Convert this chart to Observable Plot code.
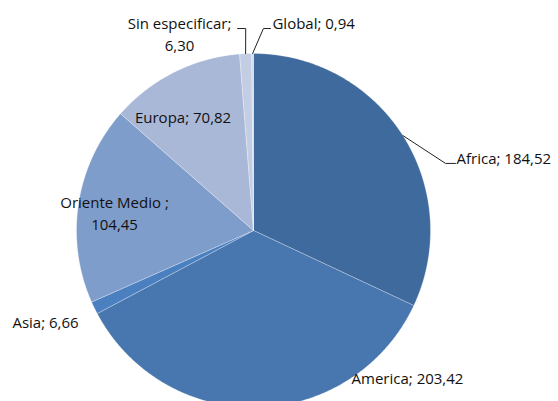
<!DOCTYPE html>
<html>
<head>
<meta charset="utf-8">
<script src="https://cdn.jsdelivr.net/npm/d3@7"></script>
<script src="https://cdn.jsdelivr.net/npm/@observablehq/plot@0.6"></script>
<style>
  html, body { margin: 0; padding: 0; background: #fff; }
</style>
</head>
<body>
<div id="chart"></div>
<script>
// ---- data ----
const regions = ["Africa", "America", "Asia", "Oriente Medio", "Europa", "Sin especificar", "Global"];
const amounts = [184.52, 203.42, 6.66, 104.45, 70.82, 6.30, 0.94];
const valueLabels = ["184,52", "203,42", "6,66", "104,45", "70,82", "6,30", "0,94"];

// ---- style / layout (not data) ----
const colors = ["#3F6A9E", "#4876AF", "#4A7FC0", "#7F9DCB", "#AAB8D8", "#C3CDE3", "#D3DAEA"];
// label anchor positions in radius units relative to pie centre (y up)
const labelLayout = [
  {lines: ["Africa; 184,52"], x: 1.147, y: 0.401, anchor: "start"},
  {lines: ["America; 203,42"], x: 0.554, y: -0.842, anchor: "start"},
  {lines: ["Asia; 6,66"], x: -1.362, y: -0.523, anchor: "start"},
  {lines: ["Oriente Medio ;", "104,45"], x: -0.785, y: 0.153, anchor: "middle"},
  {lines: ["Europa; 70,82"], x: -0.398, y: 0.633, anchor: "middle"},
  {lines: ["Sin especificar;", "6,30"], x: -0.418, y: 1.164, anchor: "middle"},
  {lines: ["Global; 0,94"], x: 0.107, y: 1.164, anchor: "start"}
];
const lineStep = 0.122;
// leader lines in radius units: bent segment from label, then to the slice edge
const leaderLayout = [
  {slice: 0, pts: [[1.141, 0.379], [1.085, 0.379]]},
  {slice: 5, pts: [[-0.09, 1.141], [-0.044, 1.141]]},
  {slice: 6, pts: [[0.096, 1.141], [0.056, 1.141]]}
];

const total = d3.sum(amounts);
// slices start at 12 o'clock, clockwise
let acc = 0;
const slices = regions.map((r, i) => {
  const a0 = acc / total * 2 * Math.PI;
  acc += amounts[i];
  const a1 = acc / total * 2 * Math.PI;
  return {region: r, value: amounts[i], label: valueLabels[i], a0, a1, color: colors[i]};
});

// polygon points of each slice in radius units
const pts = [];
slices.forEach((s, i) => {
  const n = Math.max(4, Math.ceil((s.a1 - s.a0) / (Math.PI / 360)));
  pts.push({k: i, x: 0, y: 0, c: s.color});
  for (let j = 0; j <= n; j++) {
    const a = s.a0 + (s.a1 - s.a0) * j / n;
    pts.push({k: i, x: Math.sin(a), y: Math.cos(a), c: s.color});
  }
  pts.push({k: i, x: 0, y: 0, c: s.color});
});

// leader lines: label point(s) then edge point at the slice's mid angle
const leaders = [];
leaderLayout.forEach((l, li) => {
  const s = slices[l.slice];
  l.pts.forEach(p => leaders.push({k: li, x: p[0], y: p[1]}));
  const am = (s.a0 + s.a1) / 2;
  leaders.push({k: li, x: Math.sin(am) * 1.0, y: Math.cos(am) * 1.0});
});

const texts = [];
labelLayout.forEach(l => {
  l.lines.forEach((t, j) => texts.push({t, x: l.x, y: l.y - j * lineStep, anchor: l.anchor}));
});

const R = 177, cx = 253, cy = 230, W = 558, H = 401;

const chart = Plot.plot({
  width: W, height: H,
  margin: 0,
  x: {domain: [-cx / R, (W - cx) / R], axis: null},
  y: {domain: [(cy - H) / R, cy / R], axis: null},
  style: {fontFamily: "'Open Sans', Lato, sans-serif", background: "#fff"},
  marks: [
    Plot.line(pts, {x: "x", y: "y", z: "k", fill: "c", stroke: "#ffffff", strokeWidth: 0.4, strokeOpacity: 0.7, curve: "linear"}),
    Plot.line(leaders, {x: "x", y: "y", z: "k", stroke: "#222", strokeWidth: 1, curve: "linear"}),
    Plot.text(texts.filter(d => d.anchor === "start"), {x: "x", y: "y", text: "t", textAnchor: "start", fontSize: 15, fill: "#111"}),
    Plot.text(texts.filter(d => d.anchor === "middle"), {x: "x", y: "y", text: "t", textAnchor: "middle", fontSize: 15, fill: "#111"})
  ]
});
document.getElementById("chart").appendChild(chart);
</script>
</body>
</html>
